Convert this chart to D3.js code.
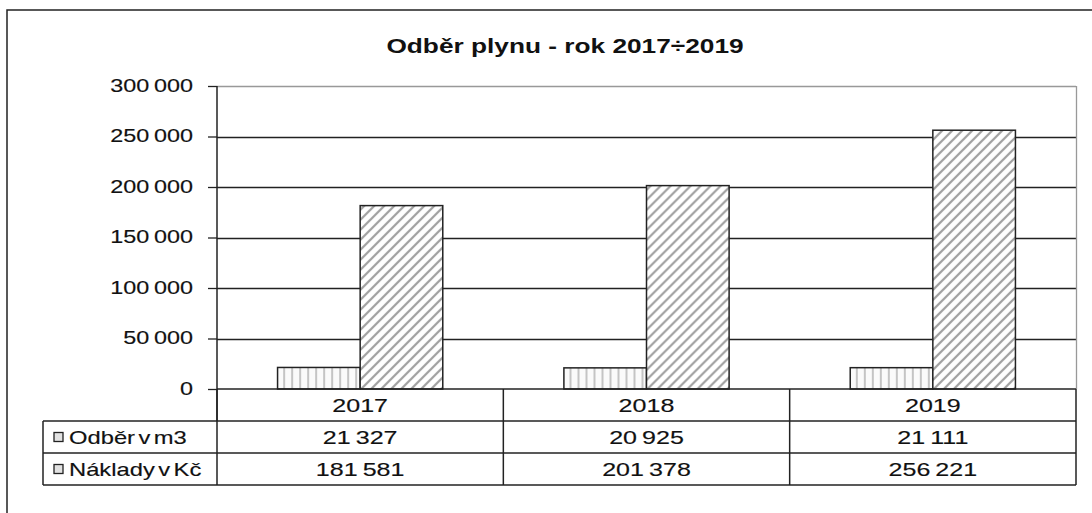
<!DOCTYPE html>
<html>
<head>
<meta charset="utf-8">
<script src="https://cdn.jsdelivr.net/npm/d3@7"></script>
<style>
  body { margin: 0; background: #fff; }
  text { font-family: "Liberation Sans", Arial, sans-serif; fill: #111; }
  text.n { stroke: #111; stroke-width: 0.15; }
</style>
</head>
<body>
<svg id="chart" width="1092" height="513"></svg>
<script>
// data
const years = ["2017", "2018", "2019"]
const seriesNames = ["Odběr v m3", "Náklady v Kč"]
const odber = [21327, 20925, 21111]
const naklady = [181581, 201378, 256221]
const yTicks = [0, 50000, 100000, 150000, 200000, 250000, 300000]
const chartTitle = "Odběr plynu - rok 2017÷2019"

const svg = d3.select("#chart")
const pLeft = 217, pRight = 1076, pTop = 86, pBottom = 389
const sx = 1.25   // the original text is stretched sideways

const loc = d3.formatLocale({decimal: ",", thousands: "\u2009", grouping: [3], currency: ["", " Kč"]})
const fmt = loc.format(",d")

// stretched text helper
function stext(g, x, y, str, size, anchor, weight, k) {
    return g.append("text")
        .attr("class", weight === "bold" ? "b" : "n")
        .attr("transform", `translate(${x},${y}) scale(${k || sx},1)`)
        .attr("text-anchor", anchor)
        .attr("font-size", size)
        .attr("font-weight", weight || "normal")
        .text(str)
}

// patterns
const defs = svg.append("defs")
const pv = defs.append("pattern").attr("id", "vert").attr("patternUnits", "userSpaceOnUse")
    .attr("width", 8).attr("height", 8)
pv.append("rect").attr("width", 8).attr("height", 8).attr("fill", "#fafafa")
pv.append("rect").attr("x", 3).attr("width", 2).attr("height", 8).attr("fill", "#c4c4c4")
const pd = defs.append("pattern").attr("id", "diag").attr("patternUnits", "userSpaceOnUse")
    .attr("width", 10).attr("height", 10)
pd.append("rect").attr("width", 10).attr("height", 10).attr("fill", "#fff")
pd.append("path").attr("d", "M0,10 L10,0 M-3,3 L3,-3 M7,13 L13,7")
    .attr("stroke", "#a0a0a0").attr("stroke-width", 2.2)

// outer frame
svg.append("rect").attr("x", 7).attr("y", 10).attr("width", 1110).attr("height", 520)
    .attr("fill", "none").attr("stroke", "#222").attr("stroke-width", 1.5)

// scales
const y = d3.scaleLinear().domain([0, 300000]).range([pBottom, pTop])
const x0 = d3.scaleBand().domain(years).range([pLeft, pRight])
const bw = x0.bandwidth() * 0.2885

// title
stext(svg, 565, 53, chartTitle, 21, "middle", "bold")

// grid lines
svg.append("g").selectAll("line").data(yTicks.filter(d => d > 0)).enter().append("line")
    .attr("x1", pLeft).attr("x2", pRight)
    .attr("y1", d => Math.round(y(d)) + 0.5).attr("y2", d => Math.round(y(d)) + 0.5)
    .attr("stroke", d => d === 300000 ? "#999" : "#222").attr("stroke-width", 1.3)

// right border of the plot area
svg.append("line").attr("x1", pRight + 0.5).attr("x2", pRight + 0.5).attr("y1", pTop).attr("y2", pBottom)
    .attr("stroke", "#999").attr("stroke-width", 1.3)

// bars
const groups = svg.append("g").selectAll("g").data(years).enter().append("g")
    .attr("transform", d => `translate(${x0(d) + x0.bandwidth() / 2},0)`)
groups.append("rect")
    .attr("x", -bw).attr("width", bw)
    .attr("y", (d, i) => y(odber[i])).attr("height", (d, i) => pBottom - y(odber[i]))
    .attr("fill", "url(#vert)").attr("stroke", "#222").attr("stroke-width", 1.5)
groups.append("rect")
    .attr("x", 0).attr("width", bw)
    .attr("y", (d, i) => y(naklady[i])).attr("height", (d, i) => pBottom - y(naklady[i]))
    .attr("fill", "url(#diag)").attr("stroke", "#222").attr("stroke-width", 1.5)

// y axis
const yAxis = svg.append("g")
    .attr("transform", `translate(${pLeft},0)`)
    .call(d3.axisLeft(y).tickValues(yTicks).tickSize(9).tickFormat(""))
yAxis.select(".domain").remove()
yAxis.selectAll("line").attr("stroke", "#222").attr("stroke-width", 1.3)
svg.append("line").attr("x1", pLeft).attr("x2", pLeft).attr("y1", pTop).attr("y2", 421)
    .attr("stroke", "#222").attr("stroke-width", 1.5)
yTicks.forEach(t => stext(svg, 193, y(t) + 5.5, fmt(t), 18, "end", "normal", 1.3))

// data table
const rowY = [389, 421, 453, 485]
const tLeft = 43
const tg = svg.append("g").attr("stroke", "#222").attr("stroke-width", 1.5).attr("fill", "none")
tg.append("line").attr("x1", pLeft).attr("x2", pRight).attr("y1", rowY[0]).attr("y2", rowY[0])
rowY.slice(1).forEach(r => tg.append("line").attr("x1", tLeft).attr("x2", pRight).attr("y1", r).attr("y2", r))
tg.append("line").attr("x1", tLeft).attr("x2", tLeft).attr("y1", rowY[1]).attr("y2", rowY[3])
tg.append("line").attr("x1", pLeft).attr("x2", pLeft).attr("y1", rowY[0]).attr("y2", rowY[3])
years.forEach(yr => {
    tg.append("line").attr("x1", x0(yr) + x0.bandwidth()).attr("x2", x0(yr) + x0.bandwidth())
        .attr("y1", rowY[0]).attr("y2", rowY[3])
})

const rows = [years, odber.map(fmt), naklady.map(fmt)]
rows.forEach((row, r) => {
    row.forEach((v, i) => {
        stext(svg, x0(years[i]) + x0.bandwidth() / 2, (rowY[r] + rowY[r + 1]) / 2 + 6.5, v, 19, "middle", "normal", 1.32)
    })
})

// legend keys in the table
seriesNames.forEach((s, i) => {
    const cy = (rowY[i + 1] + rowY[i + 2]) / 2
    svg.append("rect").attr("x", 54).attr("y", cy - 4.5).attr("width", 9).attr("height", 9)
        .attr("fill", "#e2e2e2").attr("stroke", "#222").attr("stroke-width", 1.3)
    stext(svg, 69, cy + 6.5, s, 19, "start", "normal", 1.25)
        .attr("word-spacing", -2.5)
})
</script>
</body>
</html>
